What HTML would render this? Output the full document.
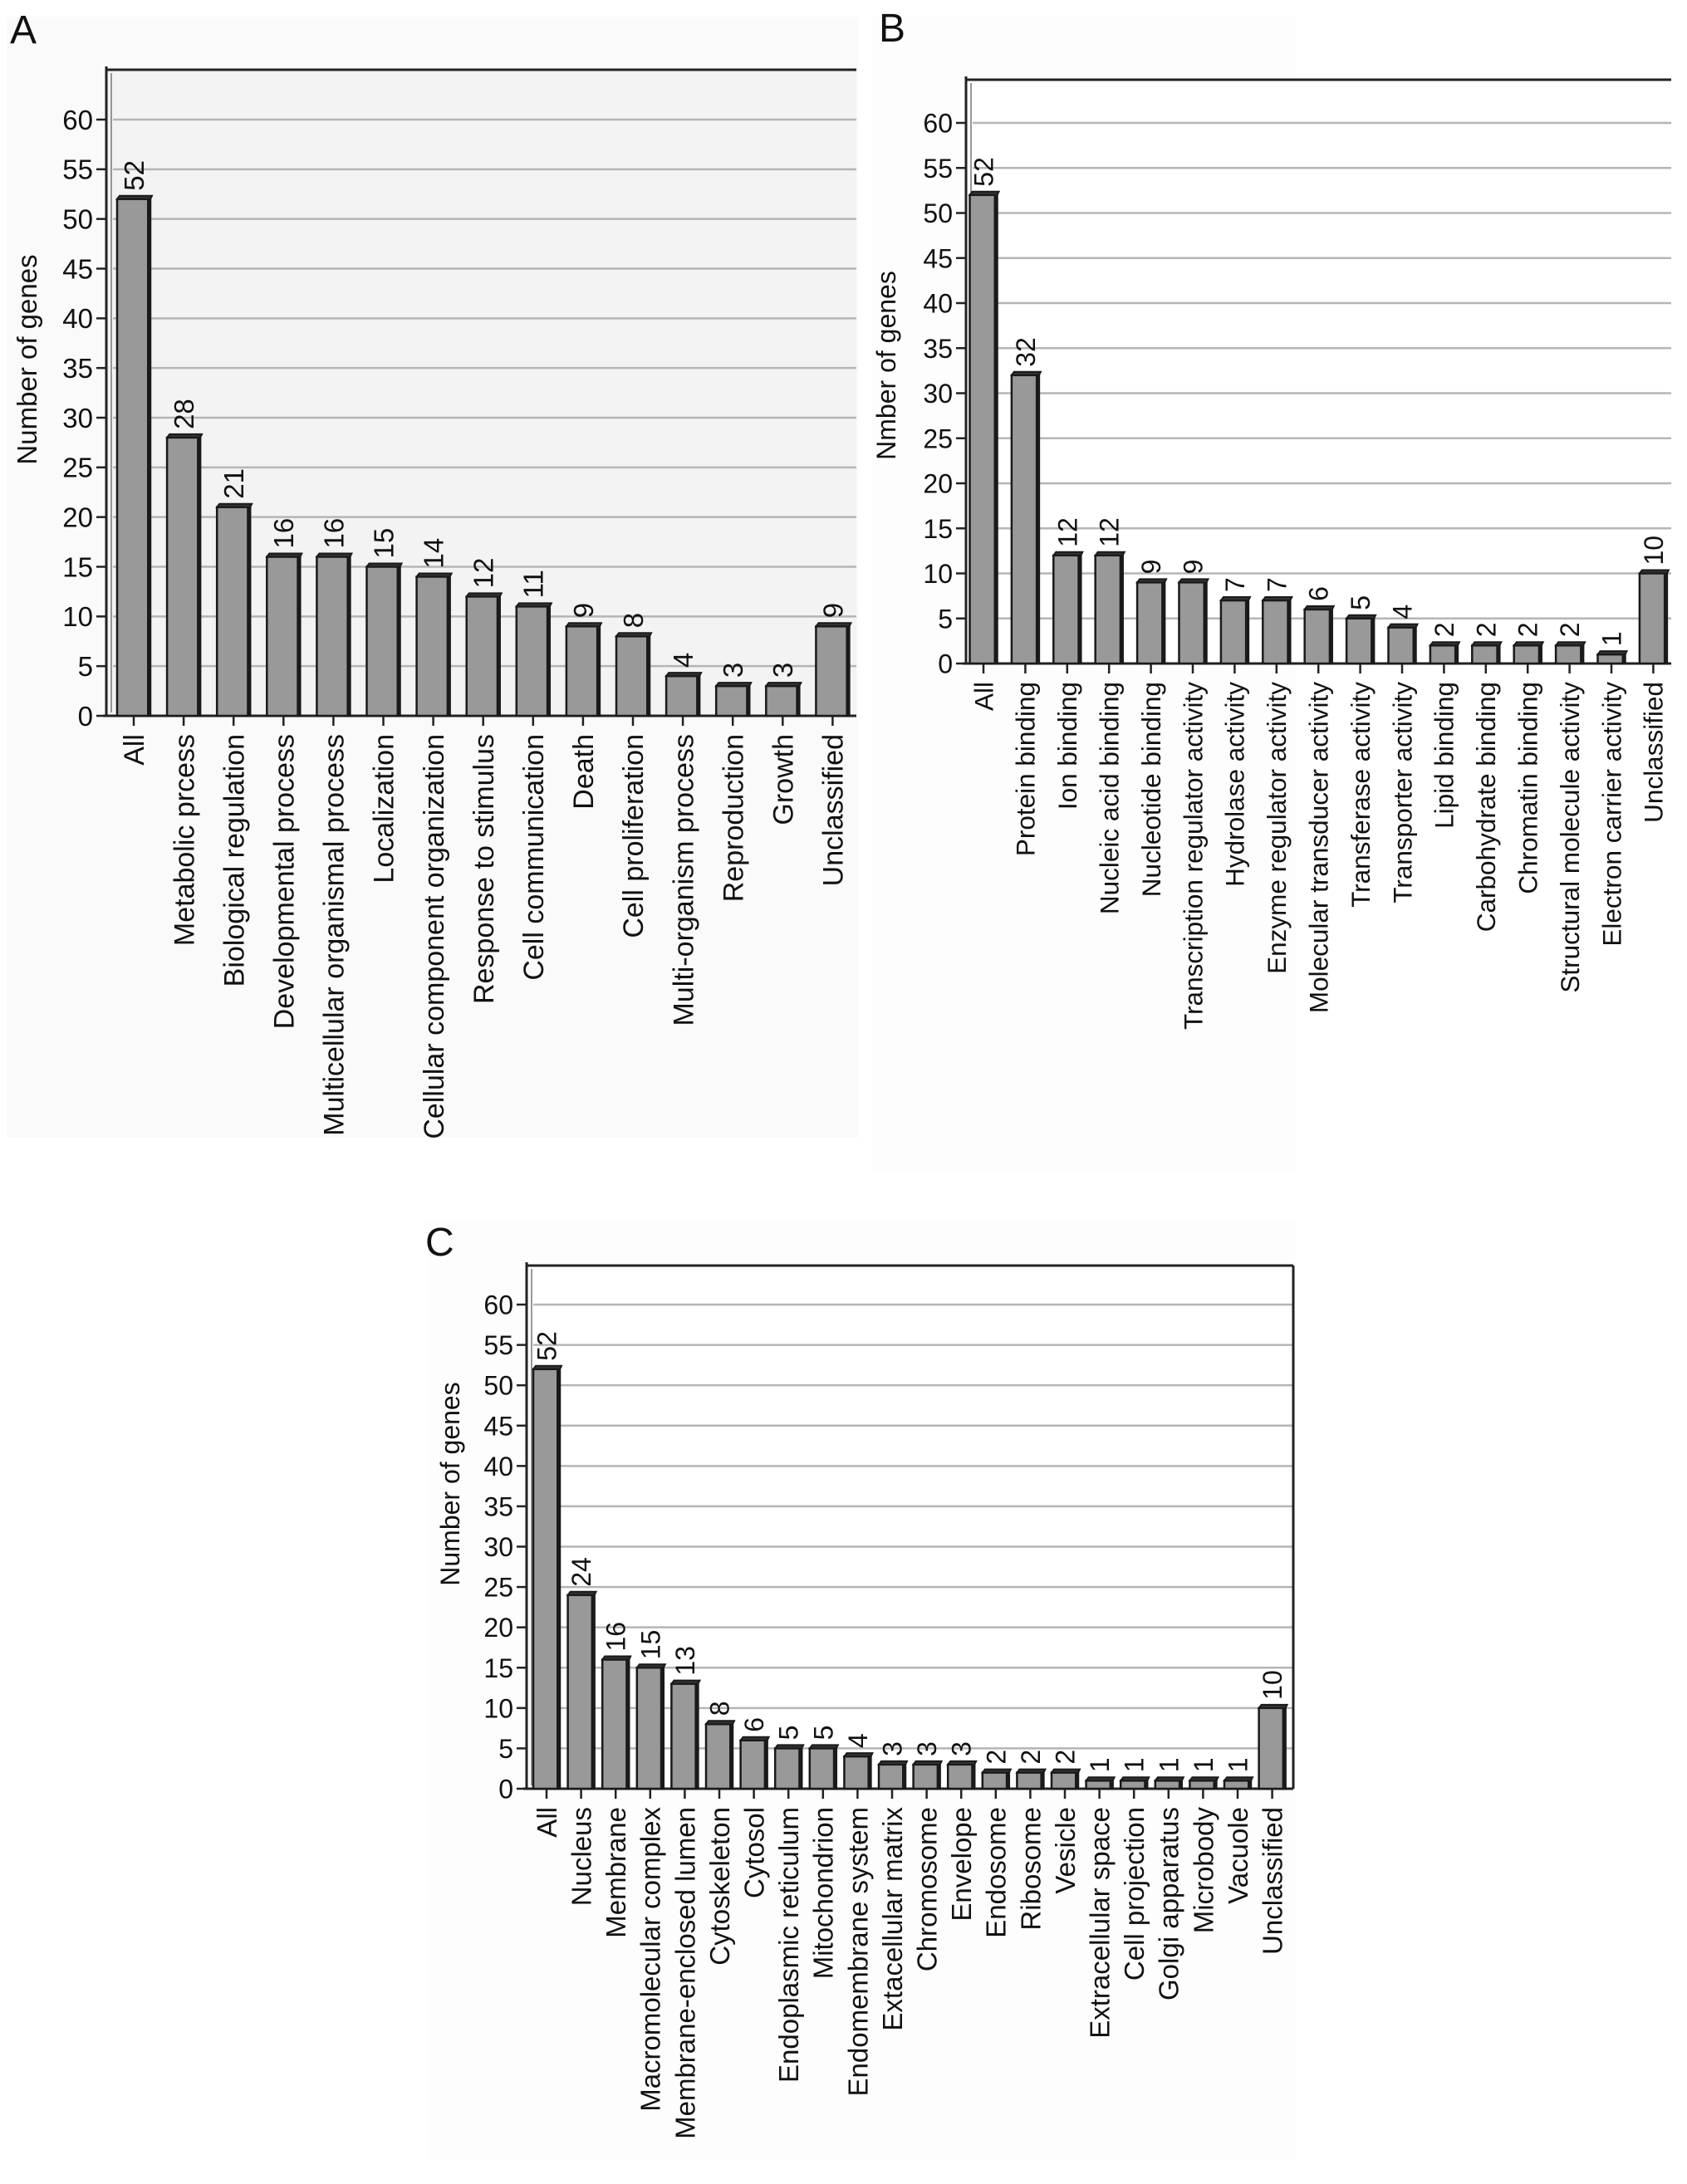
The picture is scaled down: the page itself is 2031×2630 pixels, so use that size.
<!DOCTYPE html>
<html><head><meta charset="utf-8">
<style>
html,body{margin:0;padding:0;background:#fff;}
svg{display:block;}
text{font-family:"Liberation Sans",Arial,sans-serif;fill:#111;}
</style></head>
<body>
<svg id="fig" width="2031" height="2630" viewBox="0 0 2031 2630" xmlns="http://www.w3.org/2000/svg">
<rect x="8" y="20" width="1025" height="1350" fill="#fafafa"/>
<rect x="1050" y="20" width="510" height="1390" fill="#fdfdfd"/>
<rect x="515" y="1470" width="1045" height="1130" fill="#fdfdfd"/>
</svg>
<script>
const catsA = ["All","Metabolic prcess","Biological regulation","Developmental process","Multicellular organismal process","Localization","Cellular component organization","Response to stimulus","Cell communication","Death","Cell proliferation","Multi-organism process","Reproduction","Growth","Unclassified"];
const valsA = [52,28,21,16,16,15,14,12,11,9,8,4,3,3,9];
const catsB = ["All","Protein binding","Ion binding","Nucleic acid binding","Nucleotide binding","Transcription regulator activity","Hydrolase activity","Enzyme regulator activity","Molecular transducer activity","Transferase activity","Transporter activity","Lipid binding","Carbohydrate binding","Chromatin binding","Structural molecule activity","Electron carrier activity","Unclassified"];
const valsB = [52,32,12,12,9,9,7,7,6,5,4,2,2,2,2,1,10];
const catsC = ["All","Nucleus","Membrane","Macromolecular complex","Membrane-enclosed lumen","Cytoskeleton","Cytosol","Endoplasmic reticulum","Mitochondrion","Endomembrane system","Extacellular matrix","Chromosome","Envelope","Endosome","Ribosome","Vesicle","Extracellular space","Cell projection","Golgi apparatus","Microbody","Vacuole","Unclassified"];
const valsC = [52,24,16,15,13,8,6,5,5,4,3,3,3,2,2,2,1,1,1,1,1,10];
const yTicks = [0,5,10,15,20,25,30,35,40,45,50,55,60];

const NS = "http://www.w3.org/2000/svg";
const svg = document.getElementById('fig');
function mk(tag, attrs, parent){
  const e = document.createElementNS(NS, tag);
  for (const k in attrs) e.setAttribute(k, attrs[k]);
  (parent||svg).appendChild(e);
  return e;
}

function panel(o){
  const g = mk('g', {});
  
  
  const yS = v => o.y0 - (o.y0 - o.y60) * v / 60;
  const xS = i => o.x1 + o.pitch * i;
  const bg = mk('rect', {x:o.ax, y:o.top, width:o.right-o.ax, height:o.y0-o.top, fill:o.bg}, g);
  
  
  yTicks.forEach(t => {
    if (t === 0) return;
    const l = mk('line', {x1:o.ax+8, x2:o.right, y1:yS(t), y2:yS(t), stroke:'#b5b5b5', 'stroke-width':2.5}, g);
    
    
  });
  mk('line', {x1:o.ax, x2:o.right, y1:o.top, y2:o.top, stroke:'#222', 'stroke-width':3}, g);
  if (o.rightFrame) mk('line', {x1:o.right, x2:o.right, y1:o.top, y2:o.y0, stroke:'#222', 'stroke-width':3}, g);
  const axl = mk('line', {x1:o.ax, x2:o.ax, y1:o.top-4, y2:o.y0, stroke:'#222', 'stroke-width':3}, g);
  
  
  mk('line', {x1:o.ax+6, x2:o.ax+6, y1:o.top+4, y2:o.y0-4, stroke:'#777', 'stroke-width':1.5}, g);
  const bx = mk('line', {x1:o.ax-4, x2:o.right, y1:o.y0, y2:o.y0, stroke:'#222', 'stroke-width':3}, g);
  
  
  yTicks.forEach(t => {
    mk('line', {x1:o.ax-12, x2:o.ax, y1:yS(t), y2:yS(t), stroke:'#222', 'stroke-width':2.5}, g);
    const tx = mk('text', {x:o.ax-16, y:yS(t)+o.fs*0.36, 'font-size':o.fs, 'text-anchor':'end'}, g);
    
    
    tx.textContent = t;
  });
  o.cats.forEach((c, i) => {
    const v = o.vals[i];
    const cx = xS(i), w = o.bw, x = cx - w/2, yt = yS(v);
    const bar = mk('rect', {x:x, y:yt, width:w, height:o.y0-yt, fill:'#999', stroke:'#1a1a1a', 'stroke-width':2.5}, g);
    
    
    mk('rect', {x:x+w-4, y:yt, width:5, height:o.y0-yt, fill:'#1a1a1a'}, g);
    mk('polygon', {points:`${x},${yt} ${x+3},${yt-4} ${x+w+2},${yt-4} ${x+w},${yt}`, fill:'#333', stroke:'#1a1a1a', 'stroke-width':2}, g);
    const vl = mk('text', {x:0, y:0, 'font-size':o.fs, 'text-anchor':'start', transform:`translate(${cx+o.fs*0.36},${yt-10}) rotate(-90)`}, g);
    
    
    vl.textContent = v;
    mk('line', {x1:cx, x2:cx, y1:o.y0, y2:o.y0+12, stroke:'#222', 'stroke-width':2.5}, g);
    const cl = mk('text', {x:0, y:0, 'font-size':o.lfs, 'text-anchor':'end', transform:`translate(${cx+o.lfs*0.36},${o.y0+22}) rotate(-90)`}, g);
    
    
    cl.textContent = c;
  });
  const yt = mk('text', {x:0, y:0, 'font-size':o.fs, 'text-anchor':'middle', transform:`translate(${o.ylx},${o.yly}) rotate(-90)`}, g);
  
  
  yt.textContent = o.ytitle;
  const pl = mk('text', {x:o.lx, y:o.ly, 'font-size':48}, g);
  
  
  pl.textContent = o.letter;
}

panel({id:'panel-a', letter:'A', lx:12, ly:52, cats:catsA, vals:valsA, ax:128, top:84, right:1031, y0:862, y60:144,
  x1:161, pitch:60.1, bw:40, fs:33, lfs:34, bg:'#f3f3f3', rightFrame:false, ylx:44, yly:433, ytitle:'Number of genes'});
panel({id:'panel-b', letter:'B', lx:1058, ly:50, cats:catsB, vals:valsB, ax:1163, top:96, right:2012, y0:799, y60:148,
  x1:1184, pitch:50.4, bw:33, fs:32, lfs:31.5, bg:'#ffffff', rightFrame:false, ylx:1078, yly:440, ytitle:'Nmber of genes'});
panel({id:'panel-c', letter:'C', lx:512, ly:1512, cats:catsC, vals:valsC, ax:634, top:1524, right:1557, y0:2154, y60:1571,
  x1:658, pitch:41.6, bw:32, fs:32, lfs:33, bg:'#ffffff', rightFrame:true, ylx:553, yly:1787, ytitle:'Number of genes'});
</script>
</body></html>
